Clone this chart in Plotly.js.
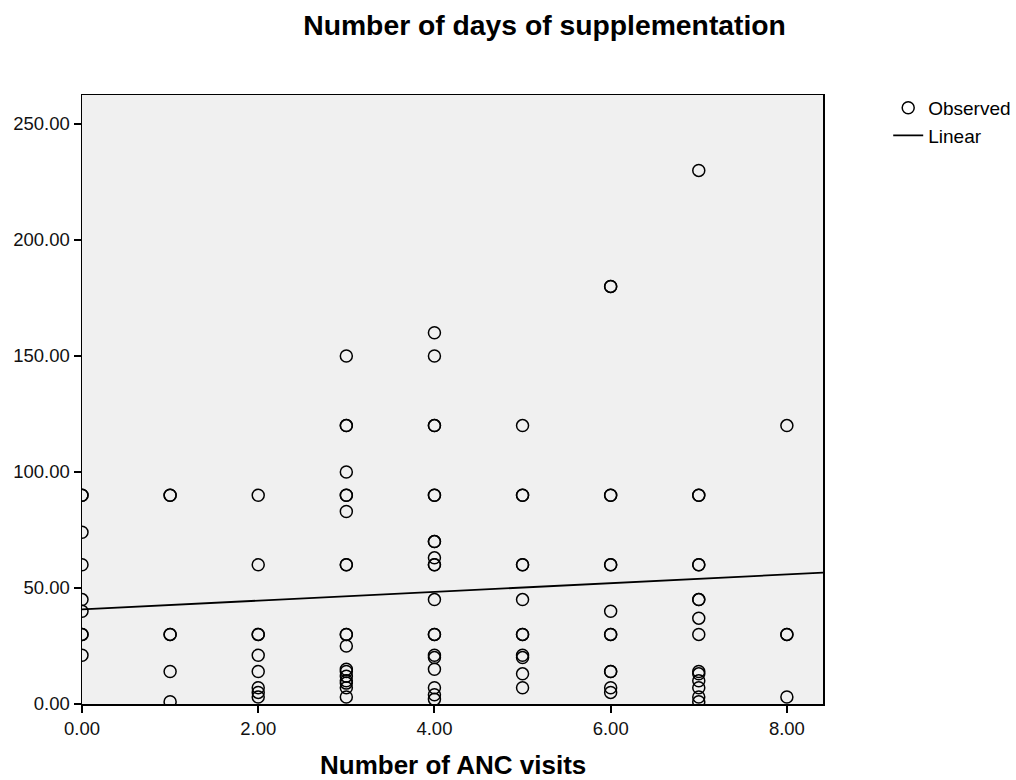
<!DOCTYPE html>
<html>
<head>
<meta charset="utf-8">
<script src="https://cdn.plot.ly/plotly-3.0.1.min.js"></script>
<style>html,body{margin:0;padding:0;background:#fff;}#chart{width:1016px;height:780px;}</style>
</head>
<body>
<div id="chart"></div>
<script>
// Observed values grouped by number of ANC visits
const visits0 = [90, 90, 74, 60, 45, 40, 30, 30, 21];
const visits1 = [90, 90, 30, 30, 14, 1];
const visits2 = [90, 60, 30, 30, 21, 14, 7, 5, 3];
const visits3 = [150, 120, 120, 100, 90, 90, 83, 60, 60, 30, 30, 25, 15, 14, 12, 10, 9, 7, 3];
const visits4 = [160, 150, 120, 120, 90, 90, 70, 70, 63, 60, 60, 45, 30, 30, 21, 20, 15, 7, 4, 2];
const visits5 = [120, 90, 90, 60, 60, 45, 30, 30, 21, 20, 13, 7];
const visits6 = [180, 180, 90, 90, 60, 60, 40, 30, 30, 14, 14, 7, 5];
const visits7 = [230, 90, 90, 60, 60, 45, 45, 37, 30, 14, 13, 10, 7, 3, 1];
const visits8 = [120, 30, 30, 3];
const groups = [visits0, visits1, visits2, visits3, visits4, visits5, visits6, visits7, visits8];

// Linear fit
const fitIntercept = 40.8;
const fitSlope = 1.88;
const xMax = 8.41;

const xTicks = [0, 2, 4, 6, 8];
const yTicks = [0, 50, 100, 150, 200, 250];

const obsX = [], obsY = [];
groups.forEach((g, i) => g.forEach(v => { obsX.push(i); obsY.push(v); }));

const fitX = [0, xMax];
const fitY = fitX.map(x => fitIntercept + fitSlope * x);

const traces = [
  {x: obsX, y: obsY, type: 'scatter', mode: 'markers', name: 'Observed',
   marker: {symbol: 'circle-open', size: 12, color: '#000', line: {width: 1.5, color: '#000'}}},
  {x: fitX, y: fitY, type: 'scatter', mode: 'lines', name: 'Linear',
   line: {color: '#000', width: 1.8}}
];

const layout = {
  width: 1016, height: 780,
  margin: {l: 82, r: 193, t: 95, b: 76, autoexpand: false},
  paper_bgcolor: '#fff', plot_bgcolor: '#f0f0f0',
  font: {family: 'Liberation Sans, Arial, sans-serif', color: '#000'},
  title: {text: '<b>Number of days of supplementation</b>', font: {size: 28.3, color: '#000'},
          xref: 'container', x: 0.536, xanchor: 'center', yref: 'container', y: 0.968, yanchor: 'middle'},
  xaxis: {range: [0, xMax], tickvals: xTicks, ticktext: xTicks.map(v => v.toFixed(2)),
          ticks: 'outside', ticklen: 7, tickwidth: 2, tickcolor: '#000',
          showline: true, linecolor: '#000', linewidth: 1.5, mirror: true,
          showgrid: false, zeroline: false, tickfont: {size: 18.5, color: '#111'}},
  yaxis: {range: [0, 262.5], tickvals: yTicks, ticktext: yTicks.map(v => v.toFixed(2)),
          ticks: 'outside', ticklen: 7, tickwidth: 2, tickcolor: '#000',
          showline: true, linecolor: '#000', linewidth: 1.5, mirror: true,
          showgrid: false, zeroline: false, tickfont: {size: 18.5, color: '#111'}},
  annotations: [{text: '<b>Number of ANC visits</b>', xref: 'paper', yref: 'paper',
                 x: 0.5, y: -0.1, xanchor: 'center', yanchor: 'middle', showarrow: false,
                 font: {size: 26, color: '#000'}}],
  legend: {x: 1.088, xanchor: 'left', y: 1.01, yanchor: 'top', font: {size: 19, color: '#000'},
           bgcolor: 'rgba(0,0,0,0)', tracegroupgap: 0, itemwidth: 30},
  showlegend: true
};

Plotly.newPlot('chart', traces, layout, {staticPlot: true});
</script>
</body>
</html>
